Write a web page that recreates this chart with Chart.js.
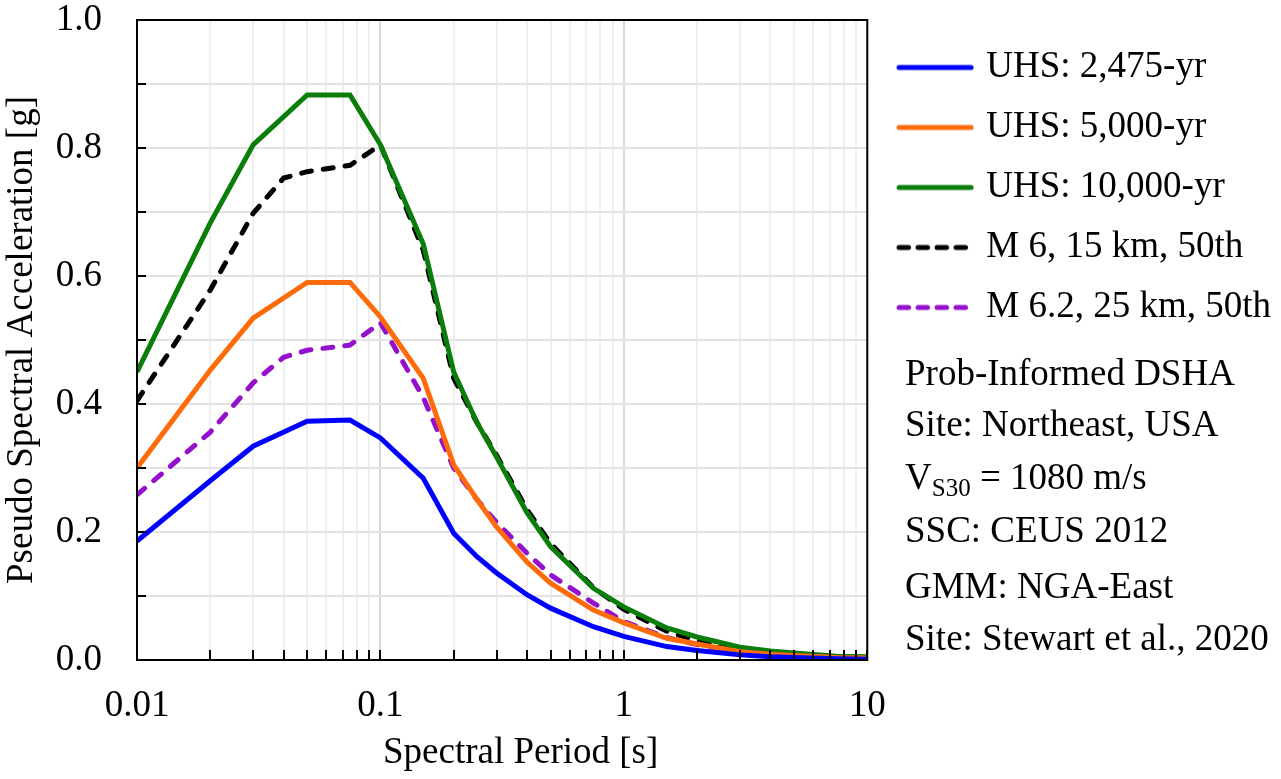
<!DOCTYPE html>
<html>
<head>
<meta charset="utf-8">
<script src="https://cdn.jsdelivr.net/npm/chart.js@4"></script>
<style>
  body { margin: 0; background: #fff; }
  #wrap { position: relative; width: 1281px; height: 779px; }
  .note { position: absolute; left: 905px; font: 37px "Liberation Serif", "Times New Roman", serif; line-height: 44px; white-space: nowrap; color: #000; }
  .note sub { font-size: 25px; vertical-align: -7px; line-height: 0; }
</style>
</head>
<body>
<div id="wrap">
  <canvas id="chart" width="1281" height="779"></canvas>
  <div class="note" style="top:351px">Prob-Informed DSHA</div>
  <div class="note" style="top:402px">Site: Northeast, USA</div>
  <div class="note" style="top:455px">V<sub>S30</sub> = 1080 m/s</div>
  <div class="note" style="top:508px">SSC: CEUS 2012</div>
  <div class="note" style="top:564px">GMM: NGA-East</div>
  <div class="note" style="top:616px">Site: Stewart et al., 2020</div>
</div>
<script>
const periodsUHS = [0.01, 0.02, 0.03, 0.05, 0.075, 0.1, 0.15, 0.2, 0.25, 0.3, 0.4, 0.5, 0.75, 1, 1.5, 2, 3, 4, 5, 7.5, 10];
const periodsScen = [0.01, 0.02, 0.03, 0.04, 0.05, 0.075, 0.1, 0.15, 0.2, 0.25, 0.3, 0.4, 0.5, 0.75, 1, 1.5, 2, 3, 4, 5, 7.5, 10];

const uhs2475 = [0.186, 0.28, 0.334, 0.373, 0.375, 0.347, 0.284, 0.198, 0.161, 0.136, 0.102, 0.081, 0.052, 0.037, 0.021, 0.015, 0.008, 0.005, 0.004, 0.002, 0.001];
const uhs5000 = [0.30, 0.453, 0.534, 0.59, 0.59, 0.536, 0.44, 0.305, 0.25, 0.208, 0.153, 0.12, 0.078, 0.058, 0.034, 0.025, 0.013, 0.009, 0.007, 0.004, 0.003];
const uhs10000 = [0.45, 0.683, 0.805, 0.883, 0.883, 0.805, 0.65, 0.45, 0.37, 0.317, 0.23, 0.177, 0.112, 0.083, 0.05, 0.036, 0.02, 0.014, 0.011, 0.006, 0.005];
const scenM6 = [0.405, 0.578, 0.698, 0.753, 0.763, 0.773, 0.805, 0.64, 0.44, 0.37, 0.32, 0.235, 0.182, 0.113, 0.079, 0.045, 0.03, 0.016, 0.011, 0.008, 0.004, 0.003];
const scenM62 = [0.258, 0.356, 0.433, 0.473, 0.484, 0.492, 0.527, 0.41, 0.30, 0.25, 0.215, 0.167, 0.133, 0.089, 0.06, 0.035, 0.024, 0.012, 0.008, 0.006, 0.003, 0.002];

const xTicks = [0.01, 0.02, 0.03, 0.04, 0.05, 0.06, 0.07, 0.08, 0.09,
                0.1, 0.2, 0.3, 0.4, 0.5, 0.6, 0.7, 0.8, 0.9,
                1, 2, 3, 4, 5, 6, 7, 8, 9, 10];
const xLabels = [0.01, 0.1, 1, 10];

const FONT = '"Liberation Serif", "Times New Roman", serif';

const pts = (xs, ys) => xs.map((x, i) => ({ x: x, y: ys[i] }));
const isMajor = v => xLabels.some(m => Math.abs(m - v) < 1e-9);

const line = (label, xs, ys, color, dash) => ({
    label: label,
    data: pts(xs, ys),
    borderColor: color,
    backgroundColor: color,
    borderWidth: 5,
    borderDash: dash || [],
    borderCapStyle: dash ? 'round' : 'butt',
    pointRadius: 0,
    tension: 0
});

// small picture of the line used as legend sample (line is offset inside the image)
const legendSample = (color, dash) => {
    const c = document.createElement('canvas');
    c.width = 90;
    c.height = 10;
    const g = c.getContext('2d');
    g.strokeStyle = color;
    g.lineWidth = 5;
    g.lineCap = 'round';
    g.setLineDash(dash.length ? [9.5, 9.5] : []);
    g.beginPath();
    g.moveTo(15, 5);
    g.lineTo(87, 5);
    g.stroke();
    return c;
};

// frame + inward tick marks
const frame = {
    id: 'frame',
    afterDraw(chart) {
        const { ctx, chartArea: a, scales } = chart;
        ctx.save();
        ctx.strokeStyle = '#000';
        ctx.lineWidth = 2;
        ctx.beginPath();
        scales.y.ticks.forEach(t => {
            const py = Math.round(scales.y.getPixelForValue(t.value));
            ctx.moveTo(a.left, py);
            ctx.lineTo(a.left + 9, py);
        });
        scales.x.ticks.forEach(t => {
            const px = Math.round(scales.x.getPixelForValue(t.value));
            ctx.moveTo(px, a.bottom);
            ctx.lineTo(px, a.bottom - 10);
        });
        ctx.stroke();
        ctx.strokeRect(a.left, a.top, a.right - a.left, a.bottom - a.top);
        ctx.restore();
    }
};

new Chart(document.getElementById('chart'), {
    type: 'line',
    data: {
        datasets: [
            line('UHS: 2,475-yr', periodsUHS, uhs2475, '#0000ff'),
            line('UHS: 5,000-yr', periodsUHS, uhs5000, '#ff6a0a'),
            line('UHS: 10,000-yr', periodsUHS, uhs10000, '#0a7d0a'),
            line('M 6, 15 km, 50th', periodsScen, scenM6, '#000000', [10, 12]),
            line('M 6.2, 25 km, 50th', periodsScen, scenM62, '#9410cc', [10, 12])
        ]
    },
    options: {
        responsive: false,
        animation: false,
        layout: { padding: { top: 20, right: 0, bottom: 0, left: 0 } },
        plugins: {
            tooltip: { enabled: false },
            legend: {
                position: 'right',
                align: 'start',
                maxWidth: 440,
                title: { display: true, text: ' ', font: { size: 6, lineHeight: 1 }, padding: 0 },
                labels: {
                    usePointStyle: true,
                    pointStyleWidth: 77.5,
                    padding: 23,
                    color: '#000',
                    font: { family: FONT, size: 37 },
                    generateLabels: chart => chart.data.datasets.map((ds, i) => ({
                        text: ds.label,
                        datasetIndex: i,
                        fontColor: '#000',
                        hidden: false,
                        lineWidth: 0,
                        pointStyle: legendSample(ds.borderColor, ds.borderDash)
                    }))
                }
            }
        },
        scales: {
            x: {
                type: 'logarithmic',
                min: 0.01,
                max: 10,
                afterBuildTicks: s => { s.ticks = xTicks.map(v => ({ value: v })); },
                afterFit: s => { s.height = 119; },
                grid: {
                    drawTicks: false,
                    lineWidth: 2,
                    color: c => isMajor(c.tick.value) ? '#d9d9d9' : '#efefef'
                },
                border: { display: false },
                ticks: {
                    autoSkip: false,
                    maxRotation: 0,
                    padding: 24,
                    color: '#000',
                    font: { family: FONT, size: 37 },
                    callback: v => isMajor(v) ? String(v) : ''
                },
                title: {
                    display: true,
                    text: '\u2003Spectral Period [s]',
                    color: '#000',
                    font: { family: FONT, size: 37 },
                    padding: { top: 0, bottom: 4 }
                }
            },
            y: {
                min: 0,
                max: 1,
                afterFit: s => { s.width = 137; s.paddingTop = 0; s.paddingBottom = 0; },
                grid: { drawTicks: false, lineWidth: 2, color: '#e3e3e3' },
                border: { display: false },
                ticks: {
                    stepSize: 0.1,
                    padding: 35,
                    color: '#000',
                    font: { family: FONT, size: 37 },
                    callback: v => Math.round(v * 10) % 2 === 0 ? v.toFixed(1) : ''
                },
                title: {
                    display: true,
                    text: 'Pseudo Spectral Acceleration [g]',
                    color: '#000',
                    font: { family: FONT, size: 37 },
                    padding: { top: 0, bottom: 0 }
                }
            }
        }
    },
    plugins: [frame]
});
</script>
</body>
</html>
